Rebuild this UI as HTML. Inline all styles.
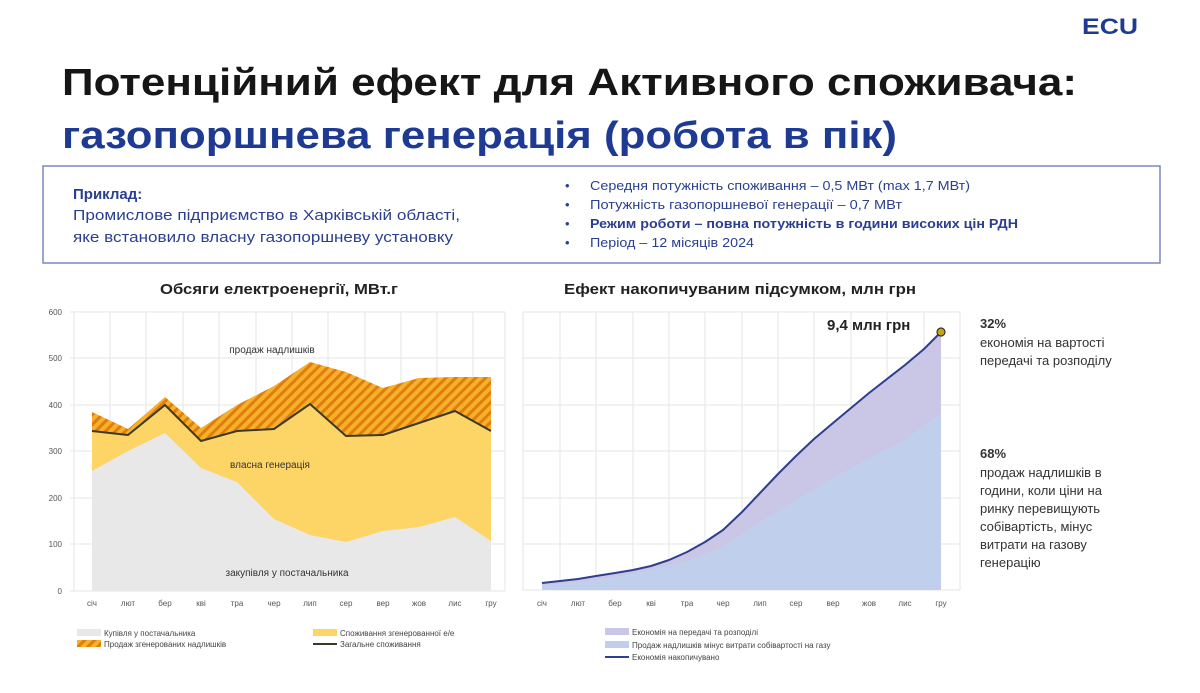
<!DOCTYPE html>
<html><head><meta charset="utf-8"><style>
body{margin:0;background:#fff;}
svg{display:block;font-family:"Liberation Sans","DejaVu Sans",sans-serif;}
</style></head><body>
<svg width="1200" height="693" viewBox="0 0 1200 693" xmlns="http://www.w3.org/2000/svg">
<defs>
<pattern id="h" patternUnits="userSpaceOnUse" width="7" height="7" patternTransform="rotate(45)">
<rect width="7" height="7" fill="#f6b12a"/><rect width="3" height="7" fill="#e07d0e"/>
</pattern>
</defs>
<rect width="1200" height="693" fill="#fff"/>
<text x="1082" y="34" font-size="22" font-weight="bold" fill="#1f3a93" textLength="56" lengthAdjust="spacingAndGlyphs">ECU</text>
<text x="62" y="95" font-size="38" font-weight="bold" fill="#161616" textLength="1015" lengthAdjust="spacingAndGlyphs">Потенційний ефект для Активного споживача:</text>
<text x="62" y="148" font-size="38" font-weight="bold" fill="#1f3a93" textLength="835" lengthAdjust="spacingAndGlyphs">газопоршнева генерація (робота в пік)</text>
<rect x="43" y="166" width="1117" height="97" fill="#fff" stroke="#7b86c4" stroke-width="1.5"/>
<text x="73" y="199" font-size="15" font-weight="bold" fill="#2a3f8f">Приклад:</text>
<text x="73" y="220" font-size="15" fill="#2a3f8f" textLength="387" lengthAdjust="spacingAndGlyphs">Промислове підприємство в Харківській області,</text>
<text x="73" y="242" font-size="15" fill="#2a3f8f" textLength="380" lengthAdjust="spacingAndGlyphs">яке встановило власну газопоршневу установку</text>
<g font-size="13" fill="#2a3f8f">
<text x="565" y="190">•</text><text x="590" y="190" textLength="380" lengthAdjust="spacingAndGlyphs">Середня потужність споживання – 0,5 МВт (max 1,7 МВт)</text>
<text x="565" y="209">•</text><text x="590" y="209" textLength="312" lengthAdjust="spacingAndGlyphs">Потужність газопоршневої генерації – 0,7 МВт</text>
<text x="565" y="228">•</text><text x="590" y="228" font-weight="bold" textLength="428" lengthAdjust="spacingAndGlyphs">Режим роботи – повна потужність в години високих цін РДН</text>
<text x="565" y="247">•</text><text x="590" y="247" textLength="164" lengthAdjust="spacingAndGlyphs">Період – 12 місяців 2024</text>
</g>
<text x="160" y="294" font-size="15" font-weight="bold" fill="#222" textLength="238" lengthAdjust="spacingAndGlyphs">Обсяги електроенергії, МВт.г</text>
<text x="564" y="294" font-size="15" font-weight="bold" fill="#222" textLength="352" lengthAdjust="spacingAndGlyphs">Ефект накопичуваним підсумком, млн грн</text>

<g stroke="#e6e6e6" stroke-width="1">
<line x1="70" y1="312" x2="505" y2="312"/><line x1="70" y1="358" x2="505" y2="358"/><line x1="70" y1="405" x2="505" y2="405"/><line x1="70" y1="451" x2="505" y2="451"/><line x1="70" y1="498" x2="505" y2="498"/><line x1="70" y1="544" x2="505" y2="544"/><line x1="70" y1="591" x2="505" y2="591"/>
<line x1="74" y1="312" x2="74" y2="591"/><line x1="110" y1="312" x2="110" y2="591"/><line x1="146" y1="312" x2="146" y2="591"/><line x1="183" y1="312" x2="183" y2="591"/><line x1="219" y1="312" x2="219" y2="591"/><line x1="256" y1="312" x2="256" y2="591"/><line x1="292" y1="312" x2="292" y2="591"/><line x1="328" y1="312" x2="328" y2="591"/><line x1="365" y1="312" x2="365" y2="591"/><line x1="401" y1="312" x2="401" y2="591"/><line x1="437" y1="312" x2="437" y2="591"/><line x1="473" y1="312" x2="473" y2="591"/><line x1="505" y1="312" x2="505" y2="591"/>
</g>
<g font-size="8" fill="#555" text-anchor="end">
<text x="62" y="315">600</text><text x="62" y="361">500</text><text x="62" y="408">400</text><text x="62" y="454">300</text><text x="62" y="501">200</text><text x="62" y="547">100</text><text x="62" y="594">0</text>
</g>
<polygon fill="url(#h)" points="92,412 128,429 165,397 201,428 237,405 274,386 310,362 346,372 383,388 419,378 455,377 491,377 491,431 455,411 419,423 383,435 346,436 310,404 274,429 237,431 201,441 165,405 128,435 92,431"/>
<polygon fill="#fdd466" points="92,431 128,435 165,405 201,441 237,431 274,429 310,404 346,436 383,435 419,423 455,411 491,431 491,591 92,591"/>
<polygon fill="#e8e8e8" points="92,471 128,451 165,433 201,468 237,482 274,519 310,535 346,542 383,531 419,527 455,517 491,541 491,591 92,591"/>
<polyline fill="none" stroke="#3a3a2a" stroke-width="2" points="92,431 128,435 165,405 201,441 237,431 274,429 310,404 346,436 383,435 419,423 455,411 491,431"/>
<g font-size="10" fill="#333" text-anchor="middle">
<text x="272" y="353">продаж надлишків</text>
<text x="270" y="468">власна генерація</text>
<text x="287" y="576">закупівля у постачальника</text>
</g>
<g font-size="8" fill="#555" text-anchor="middle">
<text x="92" y="606">січ</text><text x="128" y="606">лют</text><text x="165" y="606">бер</text><text x="201" y="606">кві</text><text x="237" y="606">тра</text><text x="274" y="606">чер</text><text x="310" y="606">лип</text><text x="346" y="606">сер</text><text x="383" y="606">вер</text><text x="419" y="606">жов</text><text x="455" y="606">лис</text><text x="491" y="606">гру</text>
</g>
<rect x="77" y="629" width="24" height="7" fill="#e8e8e8"/><text x="104" y="636" font-size="8" fill="#444">Купівля у постачальника</text>
<rect x="313" y="629" width="24" height="7" fill="#fdd466"/><text x="340" y="636" font-size="8" fill="#444">Споживання згенерованної е/е</text>
<rect x="77" y="640" width="24" height="7" fill="url(#h)"/><text x="104" y="647" font-size="8" fill="#444">Продаж згенерованих надлишків</text>
<line x1="313" y1="644" x2="337" y2="644" stroke="#3a3a2a" stroke-width="2"/><text x="340" y="647" font-size="8" fill="#444">Загальне споживання</text>

<g stroke="#e6e6e6" stroke-width="1">
<line x1="523" y1="312" x2="960" y2="312"/><line x1="523" y1="358" x2="960" y2="358"/><line x1="523" y1="405" x2="960" y2="405"/><line x1="523" y1="451" x2="960" y2="451"/><line x1="523" y1="498" x2="960" y2="498"/><line x1="523" y1="544" x2="960" y2="544"/><line x1="523" y1="590" x2="960" y2="590"/>
<line x1="523" y1="312" x2="523" y2="590"/><line x1="560" y1="312" x2="560" y2="590"/><line x1="596" y1="312" x2="596" y2="590"/><line x1="633" y1="312" x2="633" y2="590"/><line x1="669" y1="312" x2="669" y2="590"/><line x1="705" y1="312" x2="705" y2="590"/><line x1="742" y1="312" x2="742" y2="590"/><line x1="778" y1="312" x2="778" y2="590"/><line x1="814" y1="312" x2="814" y2="590"/><line x1="851" y1="312" x2="851" y2="590"/><line x1="887" y1="312" x2="887" y2="590"/><line x1="924" y1="312" x2="924" y2="590"/><line x1="960" y1="312" x2="960" y2="590"/>
</g>
<polygon fill="#c9c6e6" points="542,583 560,581 578,579 596,576 615,573 633,570 651,566 669,560 687,552 705,542 723,530 742,512 760,493 778,474 796,456 814,439 833,423 851,408 869,393 887,379 905,365 924,349 941,332 941,590 542,590"/>
<polygon fill="#c0d0ec" points="542,585 578,582 615,577 651,570 687,561 723,547 760,522 796,500 833,478 869,458 905,440 941,413 941,590 542,590"/>
<polyline fill="none" stroke="#2d3f8e" stroke-width="2" stroke-linejoin="round" points="542,583 560,581 578,579 596,576 615,573 633,570 651,566 669,560 687,552 705,542 723,530 742,512 760,493 778,474 796,456 814,439 833,423 851,408 869,393 887,379 905,365 924,349 941,332"/>
<circle cx="941" cy="332" r="4" fill="#c9a418" stroke="#333" stroke-width="1.2"/>
<text x="827" y="330" font-size="15" font-weight="bold" fill="#222">9,4 млн грн</text>
<g font-size="8" fill="#555" text-anchor="middle">
<text x="542" y="606">січ</text><text x="578" y="606">лют</text><text x="615" y="606">бер</text><text x="651" y="606">кві</text><text x="687" y="606">тра</text><text x="723" y="606">чер</text><text x="760" y="606">лип</text><text x="796" y="606">сер</text><text x="833" y="606">вер</text><text x="869" y="606">жов</text><text x="905" y="606">лис</text><text x="941" y="606">гру</text>
</g>
<rect x="605" y="628" width="24" height="7" fill="#c9c6e6"/><text x="632" y="635" font-size="8" fill="#444">Економія на передачі та розподілі</text>
<rect x="605" y="641" width="24" height="7" fill="#c0d0ec"/><text x="632" y="648" font-size="8" fill="#444">Продаж надлишків мінус витрати собівартості на газу</text>
<line x1="605" y1="657" x2="629" y2="657" stroke="#2d3f8e" stroke-width="2"/><text x="632" y="660" font-size="8" fill="#444">Економія накопичувано</text>

<g font-size="13" fill="#333">
<text x="980" y="328" font-weight="bold">32%</text>
<text x="980" y="347">економія на вартості</text>
<text x="980" y="365">передачі та розподілу</text>
<text x="980" y="458" font-weight="bold">68%</text>
<text x="980" y="477">продаж надлишків в</text>
<text x="980" y="495">години, коли ціни на</text>
<text x="980" y="513">ринку перевищують</text>
<text x="980" y="531">собівартість, мінус</text>
<text x="980" y="549">витрати на газову</text>
<text x="980" y="567">генерацію</text>
</g>
</svg>
</body></html>
